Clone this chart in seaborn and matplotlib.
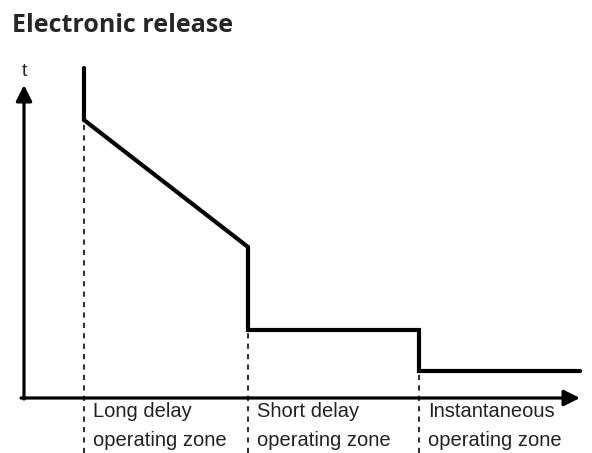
import matplotlib
matplotlib.use("Agg")
import matplotlib.pyplot as plt
import seaborn as sns
import pandas as pd

# Trip curve break points (current on x, time on y)
current = [84, 84, 248, 248, 419, 419, 580]
time = [385, 333, 206, 123, 123, 82, 82]

# Zone boundaries and the curve height at each of them
zone_edges = [84, 248, 419]
zone_tops = [333, 123, 82]
zone_labels = ["Long delay\noperating zone",
               "Short delay\noperating zone",
               "Instantaneous\noperating zone"]

sns.set_theme(style="white")
plt.rcParams["font.family"] = ["Liberation Sans", "DejaVu Sans"]

fig = plt.figure(figsize=(5.92, 4.53), dpi=100)
ax = fig.add_axes([0, 0, 1, 1])
ax.set_xlim(0, 592)
ax.set_ylim(0, 453)
ax.axis("off")

df = pd.DataFrame({"current": current, "time": time})
sns.lineplot(data=df, x="current", y="time", sort=False, estimator=None,
             color="black", lw=3, ax=ax, solid_joinstyle="miter")

# Dashed zone boundaries
for x, top in zip(zone_edges, zone_tops):
    ax.vlines(x, 0, top, colors="#333333", linestyles=(0, (2.5, 2.5)), lw=1.5)

# Axes with arrows
ax.annotate("", xy=(24, 368), xytext=(24, 54),
            arrowprops=dict(arrowstyle="-|>", lw=2.3, color="black",
                            mutation_scale=24, shrinkA=0, shrinkB=0))
ax.annotate("", xy=(580, 55), xytext=(21, 55),
            arrowprops=dict(arrowstyle="-|>", lw=2.3, color="black",
                            mutation_scale=24, shrinkA=0, shrinkB=0))
ax.text(24, 382, "t", fontsize=14, ha="center", va="center")

for x, label in zip(zone_edges, zone_labels):
    ax.text(x + 9, 51, label, fontsize=14.5, ha="left", va="top",
            linespacing=1.65, color="#222222")

fig.text(12 / 592, 1 - 26 / 453, "Electronic release", fontsize=18,
         fontweight="bold", ha="left", va="center",
         family=["Open Sans", "DejaVu Sans"])

fig.savefig("out.png", dpi=100)
